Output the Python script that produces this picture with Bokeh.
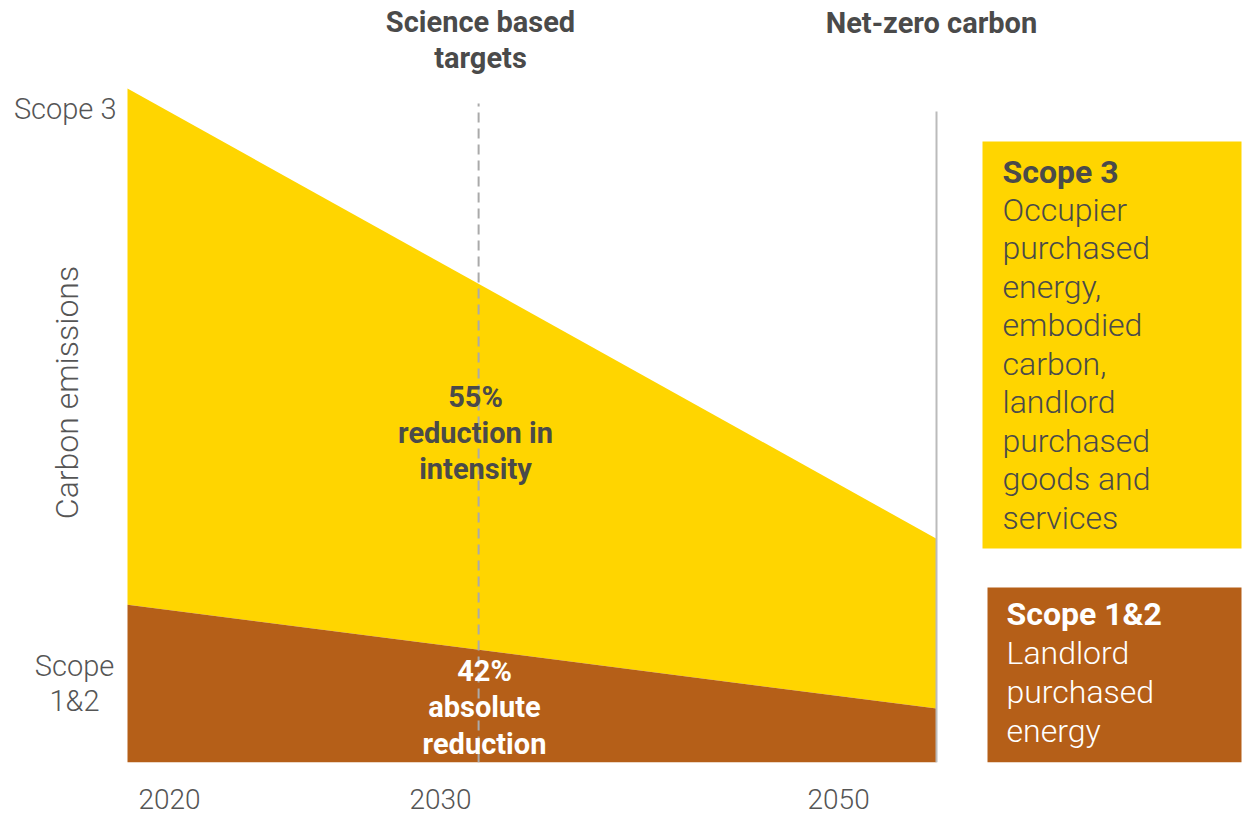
import math
from bokeh.plotting import figure
from bokeh.models import Range1d, FixedTicker, ColumnDataSource
from bokeh.core.properties import value
from bokeh.embed import file_html
from bokeh.resources import INLINE

# ---------------- data ----------------
timeline = [0, 100]                 # start (2020) .. net-zero (2050) position
scope12_top = [23.4, 8.0]           # Scope 1&2 emissions
scope3_top = [100.0, 33.2]          # Scope 1&2 + Scope 3 emissions
year_ticks = [5.2, 38.7, 87.9]
year_labels = ["2020", "2030", "2050"]
sbt_position = 43.4
netzero_position = 100
scope3_box_text = ["Occupier", "purchased", "energy,", "embodied", "carbon,",
                   "landlord", "purchased", "goods and", "services"]
scope12_box_text = ["Landlord", "purchased", "energy"]

# ---------------- style ----------------
YELLOW = "#FFD500"
BROWN = "#B55F18"
DARK = "#4A4A4A"
GREY = "#555555"
LIGHT = "Roboto Light, Roboto"
BOLD = "Roboto"

W, H = 1243, 816
BB = 54
X0, Y0 = 127, 762              # pixel of data origin
SX, SY = 8.09, 6.74            # px per unit

def px(x):   # layout pixel x -> data x
    return (x - X0) / SX

def py(y):   # layout pixel y -> data y
    return (Y0 - y) / SY

p = figure(width=W, height=H, output_backend="svg", toolbar_location=None,
           x_range=Range1d(px(0), px(W)), y_range=Range1d(0, py(0)),
           min_border_left=0, min_border_right=0, min_border_top=0,
           min_border_bottom=BB)
p.outline_line_color = None
p.grid.visible = False
p.background_fill_color = "white"
p.yaxis.visible = False

# areas
src = ColumnDataSource(dict(x=timeline, s12=scope12_top, s3=scope3_top, zero=[0, 0]))
p.varea(x="x", y1="s12", y2="s3", source=src, fill_color=YELLOW)
p.varea(x="x", y1="zero", y2="s12", source=src, fill_color=BROWN)

# target lines
p.segment(x0=[sbt_position], y0=[0], x1=[sbt_position], y1=[py(103)],
          line_color="#AAAAAA", line_width=2, line_dash="10 6")
p.segment(x0=[netzero_position], y0=[0], x1=[netzero_position], y1=[py(111)],
          line_color="#BBBBBB", line_width=2)

# x axis (years)
xa = p.xaxis[0]
xa.ticker = FixedTicker(ticks=year_ticks)
xa.major_label_overrides = dict(zip(year_ticks, year_labels))
xa.axis_line_color = None
xa.major_tick_line_color = None
xa.minor_tick_line_color = None
xa.major_label_standoff = 20
xa.major_label_text_font = LIGHT
xa.major_label_text_font_size = "28px"
xa.major_label_text_color = GREY

# y side labels
p.text(x=[px(116)], y=[py(108)], text=["Scope 3"], text_align="right", text_baseline="middle",
       text_font=value(LIGHT), text_font_size="29px", text_color=GREY)
p.text(x=[px(74)], y=[py(683)], text=["Scope\n1&2"], text_align="center", text_baseline="middle",
       text_font=value(LIGHT), text_font_size="29px", text_color=GREY, text_line_height=1.02)
p.text(x=[px(66)], y=[py(392)], text=["Carbon emissions"], angle=math.pi / 2,
       text_align="center", text_baseline="middle",
       text_font=value(LIGHT), text_font_size="32px", text_color=GREY)

# titles
p.text(x=[px(480)], y=[py(39.5)], text=["Science based\ntargets"], text_align="center",
       text_baseline="middle", text_font=value(BOLD), text_font_style="bold",
       text_font_size="29px", text_color=DARK, text_line_height=1.03)
p.text(x=[px(931)], y=[py(22)], text=["Net-zero carbon"], text_align="center",
       text_baseline="middle", text_font=value(BOLD), text_font_style="bold",
       text_font_size="29px", text_color=DARK)

# in-chart annotations
p.text(x=[px(475)], y=[py(432.5)], text=["55%\nreduction in\nintensity"], text_align="center",
       text_baseline="middle", text_font=value(BOLD), text_font_style="bold",
       text_font_size="29px", text_color=DARK, text_line_height=1.06)
p.text(x=[px(484)], y=[py(707)], text=["42%\nabsolute\nreduction"], text_align="center",
       text_baseline="middle", text_font=value(BOLD), text_font_style="bold",
       text_font_size="29px", text_color="white", text_line_height=1.075)

# side boxes
p.quad(left=[px(982)], right=[px(1241)], top=[py(141)], bottom=[py(548)],
       fill_color=YELLOW, line_color=None)
p.quad(left=[px(987)], right=[px(1241)], top=[py(587)], bottom=[0],
       fill_color=BROWN, line_color=None)

p.text(x=[px(1002)], y=[py(171)], text=["Scope 3"], text_baseline="middle",
       text_font=value(BOLD), text_font_style="bold", text_font_size="32px", text_color=DARK)
p.text(x=[px(1002)] * len(scope3_box_text),
       y=[py(209 + i * 38.5) for i in range(len(scope3_box_text))],
       text=scope3_box_text, text_baseline="middle",
       text_font=value(LIGHT), text_font_size="32px", text_color=DARK)
p.text(x=[px(1006)], y=[py(613)], text=["Scope 1&2"], text_baseline="middle",
       text_font=value(BOLD), text_font_style="bold", text_font_size="32px", text_color="white")
p.text(x=[px(1006)] * len(scope12_box_text),
       y=[py(652 + i * 39) for i in range(len(scope12_box_text))],
       text=scope12_box_text, text_baseline="middle",
       text_font=value(LIGHT), text_font_size="32px", text_color="white")

open("out.html", "w").write(file_html(p, INLINE))
